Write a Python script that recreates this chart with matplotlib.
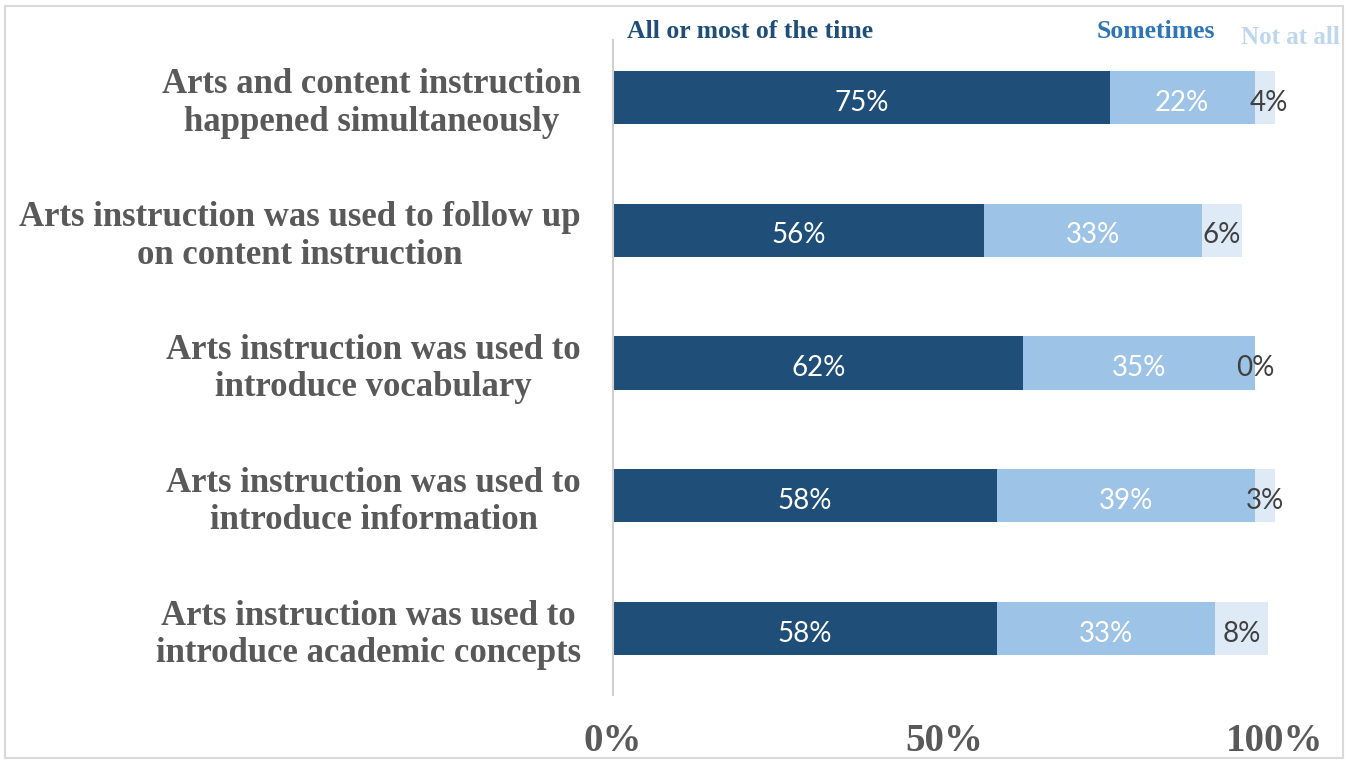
import numpy as np
import matplotlib.pyplot as plt
from matplotlib.patches import Rectangle

categories = [
    "Arts and content instruction\nhappened simultaneously",
    "Arts instruction was used to follow up\non content instruction",
    "Arts instruction was used to\nintroduce vocabulary",
    "Arts instruction was used to\nintroduce information",
    "Arts instruction was used to\nintroduce academic concepts",
]
most_of_time = [75, 56, 62, 58, 58]
sometimes = [22, 33, 35, 39, 33]
not_at_all = [4, 6, 0, 3, 8]
series_names = ["All or most of the time", "Sometimes", "Not at all"]
xtick_labels = ["0%", "50%", "100%"]

c_dark, c_mid, c_light = "#1f4e79", "#9dc3e6", "#deebf7"
c_text = "#595959"
serif = "Liberation Serif"
sans = "Lato"

fig = plt.figure(figsize=(13.51, 7.63), dpi=100)
ax = fig.add_axes([613 / 1351, 1 - 695 / 763, 662 / 1351, 664 / 763])

y = np.arange(len(categories))
a = np.array(most_of_time)
b = np.array(sometimes)
c = np.array(not_at_all)
h = 0.4
ax.barh(y, a, height=h, color=c_dark)
ax.barh(y, b, left=a, height=h, color=c_mid)
ax.barh(y, c, left=a + b, height=h, color=c_light)

# percentage inside each segment
for i in range(len(y)):
    ax.text(a[i] / 2, y[i] + 0.02, f"{a[i]}%", ha="center", va="center_baseline",
            color="white", fontsize=20, family=sans)
    ax.text(a[i] + b[i] / 2, y[i] + 0.02, f"{b[i]}%", ha="center",
            va="center_baseline", color="white", fontsize=20, family=sans)
    ax.text(a[i] + b[i] + c[i] / 2, y[i] + 0.02, f"{c[i]}%", ha="center",
            va="center_baseline", color="#404040", fontsize=20, family=sans)

ax.set_ylim(len(categories) - 0.5, -0.5)
ax.set_xlim(0, 100)
ax.set_yticks(y)
ax.set_yticklabels(categories, family=serif, fontweight="bold", fontsize=25,
                   color=c_text, multialignment="center", linespacing=1.18)
ax.set_xticks([0, 50, 100])
ax.set_xticklabels(xtick_labels, family=serif, fontweight="bold", fontsize=28,
                   color=c_text)
ax.tick_params(axis="y", length=0, pad=23)
ax.tick_params(axis="x", length=0, pad=20)
for side in ["top", "right", "bottom"]:
    ax.spines[side].set_visible(False)
ax.spines["left"].set_color("#d0d0d0")
ax.spines["left"].set_linewidth(1.5)
ax.spines["left"].set_bounds(-0.43, 4.5)

# series names written above the bars in their own colours
fig.text(627 / 1351, 1 - 31 / 763, series_names[0], color=c_dark,
         family=serif, fontweight="bold", fontsize=18.5, va="center")
fig.text(1215 / 1351, 1 - 31 / 763, series_names[1], color="#2e75b6",
         family=serif, fontweight="bold", fontsize=18.5, va="center", ha="right")
fig.text(1340 / 1351, 1 - 37 / 763, series_names[2], color="#bdd7ee",
         family=serif, fontweight="bold", fontsize=18, va="center", ha="right")

fig.patches.append(Rectangle((5 / 1351, 5 / 763), 1338 / 1351, 752 / 763,
                             transform=fig.transFigure, fill=False,
                             edgecolor="#d9d9d9", linewidth=1.5))

fig.savefig("out.png", dpi=100)
